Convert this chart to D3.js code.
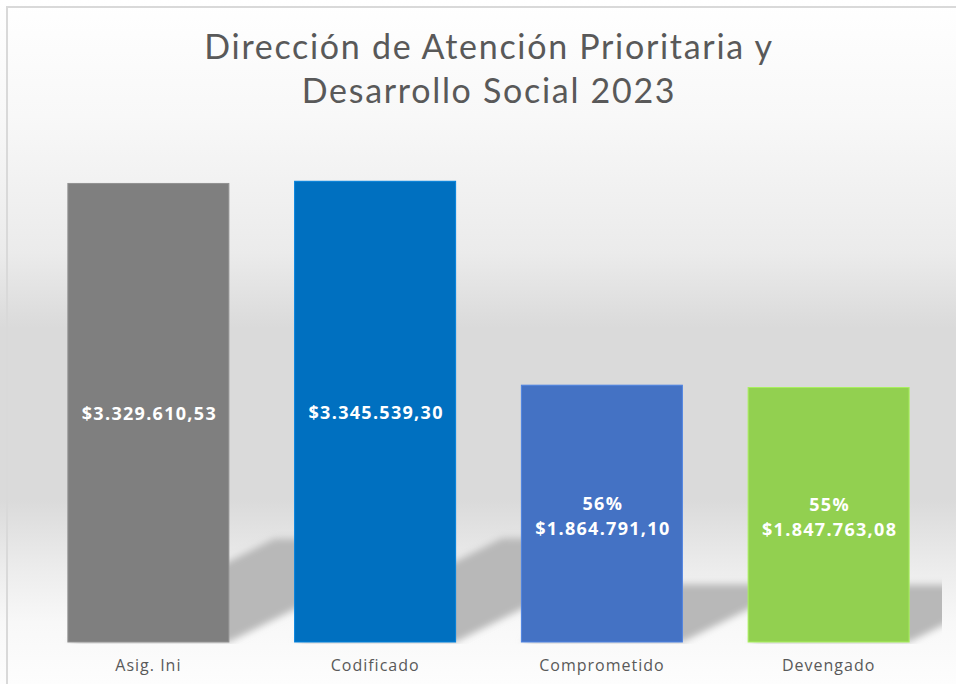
<!DOCTYPE html>
<html lang="es">
<head>
<meta charset="UTF-8">
<script src="https://cdnjs.cloudflare.com/ajax/libs/d3/7.8.5/d3.min.js"></script>
<style>
  body { margin: 0; background: #fff; }
  svg { display: block; }
</style>
</head>
<body>
<div id="chart"></div>
<script>
    const titleLines = ['Dirección de Atención Prioritaria y', 'Desarrollo Social 2023'];
    const categories = ['Asig. Ini', 'Codificado', 'Comprometido', 'Devengado'];
    const values = [3329610.53, 3345539.30, 1864791.10, 1847763.08];
    const percentLabels = ['', '', '56%', '55%'];
    const barColors = ['#7f7f7f', '#0070c0', '#4472c4', '#92d050'];
    const yMax = 3500000;

    const width = 956, height = 684;
    const plot = { left: 35, right: 942, top: 160, bottom: 642 };

    const locale = d3.formatLocale({ decimal: ',', thousands: '.', grouping: [3], currency: ['$', ''] });
    const money = locale.format('$,.2f');

    const dataset = categories.map((c, i) => ({ cat: c, value: values[i], pct: percentLabels[i], color: barColors[i] }));

    const svg = d3.select('#chart').append('svg')
        .attr('width', width)
        .attr('height', height);

    const defs = svg.append('defs');
    //background gradient
    const grad = defs.append('linearGradient')
        .attr('id', 'bg').attr('x1', 0).attr('y1', 0).attr('x2', 0).attr('y2', 1);
    [[0, '#ffffff'], [0.17, '#f8f8f8'], [0.37, '#ebebeb'], [0.48, '#dadada'], [0.73, '#dadada'],
     [0.83, '#ececec'], [0.91, '#f8f8f8'], [1, '#fdfdfd']]
        .forEach(s => grad.append('stop').attr('offset', s[0]).attr('stop-color', s[1]));

    defs.append('filter').attr('id', 'blur')
        .attr('x', '-20%').attr('y', '-20%').attr('width', '140%').attr('height', '140%')
        .append('feGaussianBlur').attr('stdDeviation', 3.5);

    defs.append('clipPath').attr('id', 'plotclip')
        .append('rect')
        .attr('x', plot.left).attr('y', plot.top)
        .attr('width', plot.right - plot.left).attr('height', plot.bottom - plot.top + 2);

    svg.append('rect')
        .attr('width', width).attr('height', height)
        .attr('fill', 'url(#bg)');

    //frame (top and left edges visible)
    svg.append('path')
        .attr('d', `M7,${height} V7 H${width}`)
        .attr('fill', 'none')
        .attr('stroke', '#d9d9d9')
        .attr('stroke-width', 2);

    //Title
    svg.append('g').selectAll('text')
        .data(titleLines)
        .enter()
        .append('text')
        .attr('x', 489)
        .attr('y', (d, i) => 59 + i * 44)
        .attr('text-anchor', 'middle')
        .style('font-family', 'Lato, "Open Sans", sans-serif')
        .style('font-size', '34px')
        .style('letter-spacing', '1.7px')
        .style('fill', '#595959')
        .text(d => d);

    const xScale = d3.scaleBand()
        .domain(categories)
        .range([plot.left, plot.right])
        .paddingInner(0.29)
        .paddingOuter(0.145);
    const yScale = d3.scaleLinear()
        .domain([0, yMax])
        .range([plot.bottom, plot.top]);

    //Shadows
    svg.append('g')
        .attr('clip-path', 'url(#plotclip)')
        .selectAll('path')
        .data(dataset)
        .enter()
        .append('path')
        .attr('d', d => {
            const x0 = xScale(d.cat), x1 = x0 + xScale.bandwidth();
            const b = yScale(0);
            const hs = (b - yScale(d.value)) * 0.225;
            const dx = hs * 2;
            return `M${x0},${b} L${x1},${b} L${x1 + dx},${b - hs} L${x0 + dx},${b - hs} Z`;
        })
        .attr('fill', '#b8b8b8')
        .attr('filter', 'url(#blur)');

    //Bars
    svg.append('g').selectAll('rect')
        .data(dataset)
        .enter()
        .append('rect')
        .attr('x', d => xScale(d.cat))
        .attr('y', d => yScale(d.value))
        .attr('width', xScale.bandwidth())
        .attr('height', d => yScale(0) - yScale(d.value))
        .attr('fill', d => d.color)
        .attr('stroke', d => d3.color(d.color).brighter(0.4))
        .attr('stroke-width', 1);

    //Value labels
    const labels = svg.append('g').selectAll('text')
        .data(dataset)
        .enter()
        .append('text')
        .attr('text-anchor', 'middle')
        .style('font-family', '"Open Sans", sans-serif')
        .style('font-weight', 'bold')
        .style('font-size', '18px')
        .style('letter-spacing', '1.3px')
        .style('fill', '#ffffff');
    labels.each(function (d) {
        const cx = xScale(d.cat) + xScale.bandwidth() / 2 + 1;
        const cy = (yScale(d.value) + yScale(0)) / 2;
        const lines = d.pct ? [d.pct, money(d.value)] : [money(d.value)];
        const t = d3.select(this);
        lines.forEach((l, i) => {
            t.append('tspan')
                .attr('x', cx)
                .attr('y', cy + 7 + (i - (lines.length - 1) / 2) * 25 + (d.pct ? 2 : 0))
                .text(l);
        });
    });

    //Category axis
    const xAxis = d3.axisBottom(xScale).tickSize(0).tickPadding(18);
    svg.append('g')
        .attr('transform', `translate(0,${plot.bottom})`)
        .call(xAxis)
        .call(g => g.select('.domain').remove())
        .call(g => g.selectAll('text')
            .style('font-family', '"Open Sans", sans-serif')
            .style('font-size', '16px')
            .style('letter-spacing', '1px')
            .style('fill', '#595959'));
</script>
</body>
</html>
